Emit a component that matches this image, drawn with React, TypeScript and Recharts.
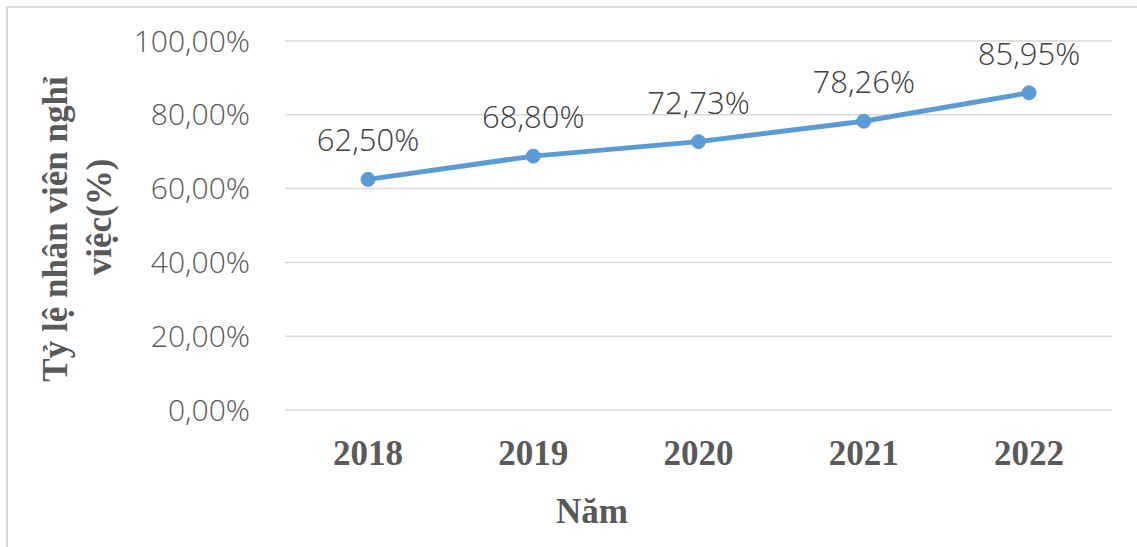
import { LineChart, Line, XAxis, YAxis, CartesianGrid, LabelList } from 'recharts';

const years = ['2018', '2019', '2020', '2021', '2022'];
const rates = [62.5, 68.8, 72.73, 78.26, 85.95];
const yTicks = [0, 20, 40, 60, 80, 100];

const data = years.map((year, i) => ({ year, rate: rates[i] }));

const fmt = (v: number) => `${v.toFixed(2).replace('.', ',')}%`;

const serif = '"Liberation Serif", "Times New Roman", serif';
const sans = '"Open Sans", "Noto Sans", sans-serif';

function YTitle() {
  return (
    <g fontFamily={serif} fontWeight="bold" fontSize={35} fill="#595959">
      <text transform="translate(67,229) rotate(-90)" textAnchor="middle">
        Tỷ lệ nhân viên nghỉ
      </text>
      <text transform="translate(111,217) rotate(-90)" textAnchor="middle">
        việc(%)
      </text>
    </g>
  );
}

function PointLabel(props: any) {
  const { x, y, value } = props;
  return (
    <text x={x} y={y - 28} textAnchor="middle" fontFamily={sans} fontWeight={300} fontSize={31} fill="#404040">
      {fmt(value)}
    </text>
  );
}

export default function App() {
  return (
    <div style={{ position: 'absolute', left: 0, top: 0, width: 1137, height: 547, background: '#fff' }}>
      <div
        style={{
          position: 'absolute',
          left: 6,
          top: 6,
          width: 1140,
          height: 560,
          border: '2px solid #d9d9d9',
          boxSizing: 'border-box',
        }}
      />
      <LineChart
        width={1137}
        height={547}
        data={data}
        margin={{ top: 41, right: 25, bottom: 40, left: 0 }}
        style={{ position: 'absolute', left: 0, top: 0 }}
      >
        <CartesianGrid vertical={false} stroke="#d9d9d9" strokeWidth={1.5} />
        <XAxis
          dataKey="year"
          height={97}
          padding={{ left: 83, right: 83 }}
          axisLine={false}
          tickLine={false}
          tickSize={0}
          tickMargin={30}
          tick={{ fontFamily: serif, fontWeight: 'bold', fontSize: 35, fill: '#595959' }}
          label={{
            content: () => (
              <text x={592} y={523} textAnchor="middle" fontFamily={serif} fontWeight="bold" fontSize={35} fill="#595959">
                Năm
              </text>
            ),
          }}
        />
        <YAxis
          width={285}
          domain={[0, 100]}
          ticks={yTicks}
          axisLine={false}
          tickLine={false}
          tickSize={0}
          tickMargin={35}
          tickFormatter={fmt}
          tick={{ fontFamily: sans, fontWeight: 300, fontSize: 30, fill: '#595959' }}
          label={{ content: () => <YTitle /> }}
        />
        <Line
          dataKey="rate"
          stroke="#5B9BD5"
          strokeWidth={5}
          dot={{ r: 7, fill: '#5B9BD5', stroke: '#5B9BD5', strokeWidth: 1 }}
          isAnimationActive={false}
        >
          <LabelList dataKey="rate" content={PointLabel} />
        </Line>
      </LineChart>
    </div>
  );
}
